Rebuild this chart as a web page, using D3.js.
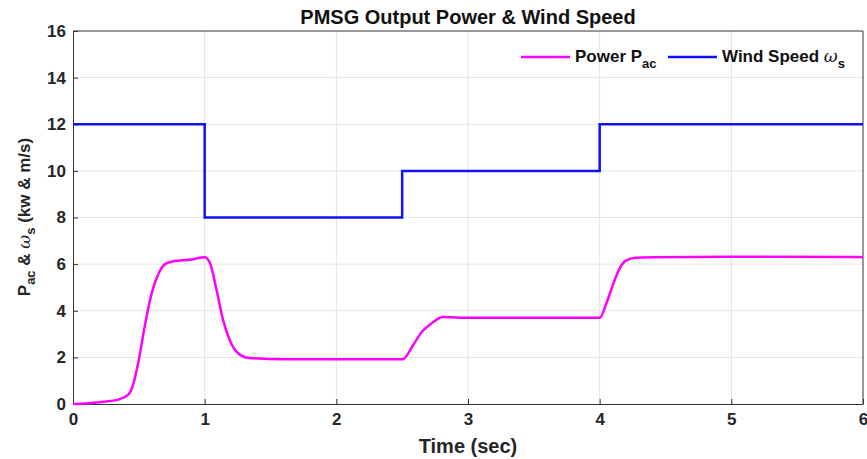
<!DOCTYPE html>
<html>
<head>
<meta charset="utf-8">
<script src="https://cdn.jsdelivr.net/npm/d3@7"></script>
<style>
  body { margin: 0; background: #fff; }
  text { font-family: "Liberation Sans", Arial, sans-serif; }
</style>
</head>
<body>
<div id="chart"></div>
<script>
const W = 867, H = 459
const margin = {top: 31, right: 4, bottom: 55, left: 73}

// power curve
const timeP = [0, 0.2, 0.35, 0.42, 0.46, 0.5, 0.55, 0.6, 0.65, 0.7, 0.76, 0.9, 1.0, 1.04, 1.09, 1.14, 1.19, 1.25, 1.34, 1.6, 2.0, 2.5, 2.51, 2.58, 2.65, 2.71, 2.81, 3.0, 3.5, 4.0, 4.05, 4.1, 4.15, 4.2, 4.27, 4.4, 5.0, 6.0]
const powerP = [0, 0.08, 0.2, 0.4, 0.9, 1.9, 3.5, 4.8, 5.6, 6.0, 6.12, 6.2, 6.3, 6.05, 4.9, 3.6, 2.75, 2.2, 1.97, 1.92, 1.92, 1.92, 1.93, 2.5, 3.1, 3.4, 3.73, 3.7, 3.7, 3.7, 4.3, 5.1, 5.8, 6.15, 6.27, 6.3, 6.32, 6.3]

// wind speed steps
const timeW = [0, 1, 2.5, 4, 6]
const windW = [12, 8, 10, 12, 12]

const xTicks = [0, 1, 2, 3, 4, 5, 6]
const yTicks = [0, 2, 4, 6, 8, 10, 12, 14, 16]

const svg = d3.select('#chart').append('svg')
    .attr('width', W)
    .attr('height', H)

const x = d3.scaleLinear().domain([0, 6]).range([margin.left, W - margin.right])
const y = d3.scaleLinear().domain([0, 16]).range([H - margin.bottom, margin.top])

// grid
svg.append('g').selectAll('line')
    .data(xTicks.slice(1, -1))
    .enter().append('line')
    .attr('x1', d => x(d)).attr('x2', d => x(d))
    .attr('y1', y(0)).attr('y2', y(16))
    .attr('stroke', '#e3e3e3')
svg.append('g').selectAll('line')
    .data(yTicks.slice(1, -1))
    .enter().append('line')
    .attr('x1', x(0)).attr('x2', x(6))
    .attr('y1', d => y(d)).attr('y2', d => y(d))
    .attr('stroke', '#e3e3e3')

// axes
svg.append('g')
    .attr('transform', 'translate(0,' + y(0) + ')')
    .call(d3.axisBottom(x).tickValues(xTicks).tickFormat(d3.format('d')).tickSizeInner(-5).tickSizeOuter(0).tickPadding(9))
svg.append('g')
    .attr('transform', 'translate(' + x(0) + ',0)')
    .call(d3.axisLeft(y).tickValues(yTicks).tickFormat(d3.format('d')).tickSizeInner(-5).tickSizeOuter(0).tickPadding(7))

svg.selectAll('.domain').attr('stroke', '#333')
svg.selectAll('.tick line').attr('stroke', '#333')
svg.selectAll('.tick text')
    .attr('font-family', '"Liberation Sans", Arial, sans-serif')
    .attr('font-size', '17px')
    .attr('font-weight', 'bold')
    .attr('fill', '#262626')

// top & right box
svg.append('line').attr('x1', x(0)).attr('x2', x(6)).attr('y1', y(16)).attr('y2', y(16)).attr('stroke', '#333')
svg.append('line').attr('x1', x(6)).attr('x2', x(6)).attr('y1', y(16)).attr('y2', y(0)).attr('stroke', '#333')

// lines
const powerLine = d3.line()
    .x((d, i) => x(timeP[i]))
    .y(d => y(d))
    .curve(d3.curveMonotoneX)
const windLine = d3.line()
    .x((d, i) => x(timeW[i]))
    .y(d => y(d))
    .curve(d3.curveStepAfter)

svg.append('path')
    .datum(windW)
    .attr('d', windLine)
    .attr('fill', 'none')
    .attr('stroke', '#1010ff')
    .attr('stroke-width', 2.5)

svg.append('path')
    .datum(powerP)
    .attr('d', powerLine)
    .attr('fill', 'none')
    .attr('stroke', '#ff00ff')
    .attr('stroke-width', 2.5)

// title
svg.append('text')
    .attr('x', 468).attr('y', 24)
    .attr('text-anchor', 'middle')
    .attr('font-size', '20px')
    .attr('font-weight', 'bold')
    .attr('fill', '#111')
    .text('PMSG Output Power & Wind Speed')

// x label
svg.append('text')
    .attr('x', 468).attr('y', 453)
    .attr('text-anchor', 'middle')
    .attr('font-size', '20px')
    .attr('font-weight', 'bold')
    .attr('fill', '#262626')
    .text('Time (sec)')

// y label
const yl = svg.append('text')
    .attr('transform', 'translate(30,217) rotate(-90)')
    .attr('text-anchor', 'middle')
    .attr('font-size', '17px')
    .attr('font-weight', 'bold')
    .attr('fill', '#262626')
yl.append('tspan').text('P')
yl.append('tspan').attr('font-size', '13px').attr('dy', 5).text('ac')
yl.append('tspan').attr('dy', -5).text(' & ')
yl.append('tspan').attr('font-style', 'italic').attr('font-weight', 'normal').attr('font-family', '"DejaVu Serif", serif').text('ω')
yl.append('tspan').attr('font-size', '13px').attr('dy', 5).text('s')
yl.append('tspan').attr('dy', -5).text(' (kw & m/s)')

// legend
const legendItems = ['Power P', 'Wind Speed ']
const legendSubs = ['ac', 's']
const legendColors = ['#ff00ff', '#1010ff']
const legendX = [521, 668]
legendItems.forEach((name, i) => {
    svg.append('line')
        .attr('x1', legendX[i]).attr('x2', legendX[i] + 49)
        .attr('y1', 57).attr('y2', 57)
        .attr('stroke', legendColors[i])
        .attr('stroke-width', 2.5)
    const t = svg.append('text')
        .attr('x', legendX[i] + 54).attr('y', 62)
        .attr('font-size', '17px')
        .attr('font-weight', 'bold')
        .attr('fill', '#111')
    t.append('tspan').text(name)
    if (i === 1) {
        t.append('tspan').attr('font-style', 'italic').attr('font-weight', 'normal').attr('font-family', '"DejaVu Serif", serif').text('ω')
    }
    t.append('tspan').attr('font-size', '13px').attr('dy', 6).text(legendSubs[i])
})
</script>
</body>
</html>
